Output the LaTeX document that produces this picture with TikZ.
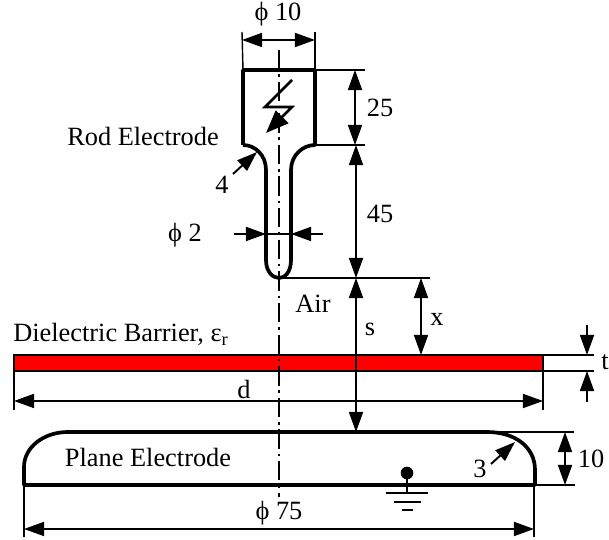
\documentclass[tikz,border=0pt]{standalone}
\usepackage{fontspec}
\setmainfont{Liberation Serif}
\usetikzlibrary{arrows.meta}
\begin{document}
\begin{tikzpicture}[x=0.02cm, y=-0.02cm,
	body/.style={line width=2.1pt, line join=round},
	thin line/.style={line width=0.8pt},
	dim/.style={line width=1.1pt, {Triangle[length=11.5pt,width=8pt]}-{Triangle[length=11.5pt,width=8pt]}},
	lead/.style={line width=1.1pt, -{Triangle[length=11.5pt,width=8pt]}},
	label/.style={inner sep=0pt, font=\fontsize{15pt}{18pt}\selectfont},
	axis/.style={line width=0.9pt, dash pattern=on 11pt off 2.8pt on 1.4pt off 2.8pt}]
	\useasboundingbox (0, 0) rectangle (609, 540);
	% named points
	\coordinate (R1) at (243, 70);
	\coordinate (R2) at (315, 70);
	\coordinate (R3) at (243, 145);
	\coordinate (R4) at (315, 145);
	\coordinate (R5) at (279, 278);
	\coordinate (B1) at (14, 355);
	\coordinate (B2) at (543, 371);
	\coordinate (B3) at (14, 371);
	\coordinate (B4) at (543, 355);
	\coordinate (P1) at (24, 485);
	\coordinate (P2) at (534, 485);
	\coordinate (P3) at (356, 432);
	% barrier
	\draw[fill=red, line width=0.9pt] (B1) rectangle (B2);
	% rod
	\draw[body] (R3) -- (R1) -- (R2) -- (R4)
		.. controls (303, 145) and (291, 155) .. (291, 170) -- (291, 260)
		.. controls (291, 272) and (285, 278) .. (R5)
		.. controls (273, 278) and (266, 272) .. (266, 260) -- (266, 170)
		.. controls (266, 155) and (255, 145) .. (R3);
	% plane
	\draw[body] (P1) -- (24, 467) .. controls (24, 447) and (44, 432) .. (68, 432)
		-- (487, 432) .. controls (515, 432) and (535, 447) .. (535, 470) -- (535, 485) -- cycle;
	% axis
	\draw[axis] (279, 50) -- (279, 497);
	% extension lines
	\draw[thin line] (R1) -- (242, 32);
	\draw[thin line] (R2) -- (315, 32);
	\draw[thin line] (R2) -- (365, 70);
	\draw[thin line] (R4) -- (365, 145);
	\draw[thin line] (R5) -- (430, 278);
	\draw[thin line] (B3) -- (14, 410);
	\draw[thin line] (B2) -- (543, 410);
	\draw[thin line] (B4) -- (594, 355);
	\draw[thin line] (B2) -- (594, 371);
	\draw[thin line] (P1) -- (24, 537);
	\draw[thin line] (P2) -- (534, 537);
	\draw[thin line] (487, 432) -- (574, 432);
	\draw[thin line] (P2) -- (575, 485);
	% dimensions
	\draw[dim] (242, 40) -- (315, 40);
	\draw[dim] (355, 70) -- (355, 145);
	\draw[dim] (356, 145) -- (356, 278);
	\draw[dim] (356, 278) -- (P3);
	\draw[dim] (421, 278) -- (421, 355);
	\draw[dim] (14, 401) -- (543, 401);
	\draw[dim] (24, 529) -- (534, 529);
	\draw[dim] (565, 432) -- (565, 485);
	\draw[lead] (587, 325) -- (587, 355);
	\draw[lead] (587, 402) -- (587, 371);
	\draw[lead] (234, 234) -- (266, 234);
	\draw[lead] (323, 234) -- (291, 234);
	\draw[thin line] (266, 234) -- (291, 234);
	\draw[lead] (233, 174) -- (257, 152);
	\draw[lead] (491, 464) -- (515, 442);
	% lightning
	\draw[line width=1.5pt, -{Triangle[length=13pt,width=10pt]}] (292, 80) -- (265, 107) -- (292, 107) -- (266, 133);
	% ground
	\fill (407, 473) circle (6.3);
	\draw[line width=1.2pt] (407, 473) -- (407, 493);
	\draw[line width=1.2pt] (386, 493) -- (428, 493);
	\draw[line width=1.2pt] (394, 502) -- (421, 502);
	\draw[line width=1.2pt] (402, 510) -- (413, 510);
	% labels
	\node[label] (T1) at (278, 14) {ϕ 10};
	\node[label] (T2) at (380, 108) {25};
	\node[label] (T3) at (380, 214) {45};
	\node[label] (T4) at (143, 136) {Rod Electrode};
	\node[label] (T5) at (222, 185) {4};
	\node[label] (T6) at (185, 235) {ϕ 2};
	\node[label] (T7) at (313, 304) {Air};
	\node[label] (T8) at (370, 329) {s};
	\node[label] (T9) at (437, 319) {x};
	\node[label, anchor=base west] (T10) at (13, 342) {Dielectric Barrier, ε\textsubscript{r}};
	\node[label] (T11) at (605, 362) {t};
	\node[label] (T12) at (244, 389) {d};
	\node[label] (T13) at (148, 457) {Plane Electrode};
	\node[label] (T14) at (480, 469) {3};
	\node[label] (T15) at (591, 459) {10};
	\node[label] (T16) at (279, 513) {ϕ 75};
\end{tikzpicture}
\end{document}
